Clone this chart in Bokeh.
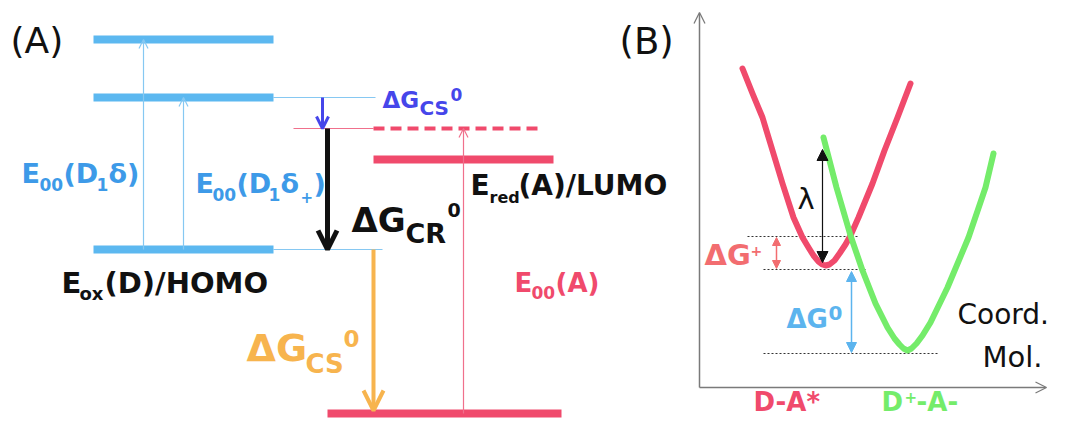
from bokeh.plotting import figure
from bokeh.models import Range1d, Arrow, OpenHead, NormalHead, ColumnDataSource
from bokeh.core.properties import value, field
from bokeh.embed import file_html
from bokeh.resources import INLINE

# ---------------- colours ----------------
BLUE_BAR = "#5cb8f0"
BLUE_THIN = "#86c8f2"
BLUE_TXT = "#3d9ae8"
RED = "#f04a6c"
PINK_THIN = "#f0708c"
ORANGE = "#f7b44e"
DARKBLUE = "#4646ea"
GREEN = "#74ec6a"
SALMON = "#f26d70"
SKY = "#5cb4ee"
BLACK = "#111111"
GREY = "#7a7a7a"

# ---------------- data: panel (A) energy levels ----------------
# diagram units; y grows downward (higher energy = smaller y)
donor_levels = [39, 97, 249]             # E00(D1δ), E00(D1δ+), Eox(D)/HOMO
donor_x = [93, 273]
acc_dashed_level = 128                   # level reached after ΔGCS0 (dashed)
acc_dashed_x = [373, 542]
acc_lumo_level = 159                     # Ered(A)/LUMO
acc_lumo_x = [373, 553]
acc_ground_level = 413                   # acceptor ground state
acc_ground_x = [327, 561]

# thin connector lines
conn_y = [97, 128, 249]
conn_x0 = [273, 293, 273]
conn_x1 = [375, 373, 382]
conn_col = [BLUE_THIN, PINK_THIN, BLUE_THIN]

# excitation arrows E00(D1δ), E00(D1δ+), E00(A)
exc_x = [143, 183, 463]
exc_from = [249, 249, 413]
exc_to = [39, 97, 128]
exc_col = [BLUE_THIN, BLUE_THIN, PINK_THIN]

# energy-change arrows: ΔGCS0 (blue), ΔGCR0 (black), ΔGCS0 (orange)
dg_x = [322, 327, 373]
dg_from = [97, 128, 249]
dg_to = [128, 249, 410]
dg_col = [DARKBLUE, BLACK, ORANGE]
dg_width = [3, 5, 4]
dg_head = [12, 19, 20]

# ---------------- data: panel (B) Marcus parabolas ----------------
axis_origin = [699, 387]
axis_top = 12
axis_right = 1046

red_x = [742, 752, 762, 772, 782, 793, 802, 808, 813, 818, 822, 825, 829, 834, 839, 845, 850, 858, 872, 884, 897, 910]
red_y = [68, 93, 117, 150, 183, 217, 237, 247, 255, 261, 264, 265, 264, 260, 253, 244, 235, 217, 183, 150, 117, 83]
green_x = [823, 836, 850, 862, 875, 887, 894, 899, 903, 907, 911, 916, 922, 930, 947, 968, 985, 993]
green_y = [137, 187, 235, 270, 303, 327, 338, 344, 348, 350, 348, 343, 335, 322, 287, 237, 187, 153]

dot_y = [236, 269, 353]
dot_x0 = [747, 763, 763]
dot_x1 = [857, 867, 937]

lam_x, lam_y = 822, [149, 262]
dgp_x, dgp_y = 776, [237, 268]
dg0_x, dg0_y = 851, [271, 352]

# ---------------- labels: (text, x, baseline, size, style, colour) ----------------
labels = [
    ("(A)", 10, 53, 36, "normal", BLACK),
    ("(B)", 619, 55, 37, "normal", BLACK),
    # E00(D1δ)
    ("E", 21, 183, 27, "bold", BLUE_TXT), ("00", 39, 190, 17, "bold", BLUE_TXT),
    ("(D", 63, 183, 27, "bold", BLUE_TXT), ("1", 96, 190, 17, "bold", BLUE_TXT),
    ("δ)", 108, 183, 27, "bold", BLUE_TXT),
    # E00(D1δ+)
    ("E", 195, 193, 27, "bold", BLUE_TXT), ("00", 212, 200, 17, "bold", BLUE_TXT),
    ("(D", 236, 193, 27, "bold", BLUE_TXT), ("1", 268, 200, 17, "bold", BLUE_TXT),
    ("δ", 280, 193, 27, "bold", BLUE_TXT), ("+", 300, 202, 15, "bold", BLUE_TXT),
    (")", 313, 193, 27, "bold", BLUE_TXT),
    # Eox(D)/HOMO
    ("E", 61, 293, 29, "bold", BLACK), ("ox", 79, 300, 18, "bold", BLACK),
    ("(D)/HOMO", 104, 293, 29, "bold", BLACK),
    # ΔGCS0 orange
    ("ΔG", 246, 362, 38, "bold", ORANGE), ("CS", 305, 373, 26, "bold", ORANGE),
    ("0", 343, 347, 23, "bold", ORANGE),
    # ΔGCR0 black
    ("ΔG", 351, 232, 34, "bold", BLACK), ("CR", 405, 243, 27, "bold", BLACK),
    ("0", 447, 217, 19, "bold", BLACK),
    # ΔGCS0 small blue
    ("ΔG", 382, 108, 23, "bold", DARKBLUE), ("CS", 419, 115, 20, "bold", DARKBLUE),
    ("0", 450, 100, 17, "bold", DARKBLUE),
    # Ered(A)/LUMO
    ("E", 470, 195, 28, "bold", BLACK), ("red", 489, 203, 16, "bold", BLACK),
    ("(A)/LUMO", 518, 195, 28, "bold", BLACK),
    # E00(A)
    ("E", 514, 292, 26, "bold", RED), ("00", 531, 298, 17, "bold", RED),
    ("(A)", 555, 292, 26, "bold", RED),
    # panel B labels
    ("λ", 797, 209, 29, "normal", BLACK),
    ("ΔG", 704, 265, 29, "bold", SALMON), ("+", 750, 256, 14, "bold", SALMON),
    ("ΔG", 786, 328, 26, "bold", SKY), ("0", 828, 320, 20, "bold", SKY),
    ("Coord.", 957, 324, 28, "normal", BLACK),
    ("Mol.", 982, 367, 29, "normal", BLACK),
    ("D-A*", 753, 411, 26, "bold", RED),
    ("D", 881, 411, 26, "bold", GREEN), ("+", 904, 402, 15, "bold", GREEN),
    ("-A-", 916, 411, 26, "bold", GREEN),
]
# the renderer places the alphabetic baseline ~0.37 em lower than requested
BASELINE_FIX = 0.37

# ---------------- figure ----------------
W, H = 1049, 418
p = figure(width=W, height=H, x_range=Range1d(0, W), y_range=Range1d(H, 0),
           x_axis_type=None, y_axis_type=None, output_backend="svg",
           toolbar_location=None, min_border=0)
p.outline_line_color = None
p.grid.visible = False

# thin connectors
p.segment(x0=conn_x0, y0=conn_y, x1=conn_x1, y1=conn_y, line_color=conn_col, line_width=1.2)

# excitation arrows (thin, open heads)
for x, y0, y1, c in zip(exc_x, exc_from, exc_to, exc_col):
    p.add_layout(Arrow(x_start=x, y_start=y0, x_end=x, y_end=y1, line_color=c, line_width=1.2,
                       end=OpenHead(size=9, line_color=c, line_width=1.2)))

# donor levels
p.segment(x0=[donor_x[0]] * 3, y0=donor_levels, x1=[donor_x[1]] * 3, y1=donor_levels,
          line_color=BLUE_BAR, line_width=8, line_cap="butt")
# acceptor levels
p.segment(x0=[acc_dashed_x[0]], y0=[acc_dashed_level], x1=[acc_dashed_x[1]], y1=[acc_dashed_level],
          line_color=RED, line_width=4, line_dash="11 6", line_cap="butt")
p.segment(x0=[acc_lumo_x[0], acc_ground_x[0]], y0=[acc_lumo_level, acc_ground_level],
          x1=[acc_lumo_x[1], acc_ground_x[1]], y1=[acc_lumo_level, acc_ground_level],
          line_color=RED, line_width=8, line_cap="butt")

# ΔG arrows
for x, y0, y1, c, w, hs in zip(dg_x, dg_from, dg_to, dg_col, dg_width, dg_head):
    p.add_layout(Arrow(x_start=x, y_start=y0, x_end=x, y_end=y1, line_color=c, line_width=w,
                       end=OpenHead(size=hs, line_color=c, line_width=w)))

# panel B axes
p.add_layout(Arrow(x_start=axis_origin[0], y_start=axis_origin[1], x_end=axis_origin[0], y_end=axis_top,
                   line_color=GREY, line_width=1.5, end=OpenHead(size=11, line_color=GREY, line_width=1.3)))
p.add_layout(Arrow(x_start=axis_origin[0], y_start=axis_origin[1], x_end=axis_right, y_end=axis_origin[1],
                   line_color=GREY, line_width=1.5, end=OpenHead(size=11, line_color=GREY, line_width=1.3)))

# dotted reference lines
p.segment(x0=dot_x0, y0=dot_y, x1=dot_x1, y1=dot_y, line_color="#333333", line_width=1, line_dash="2 2")

# parabolas
p.line(red_x, red_y, line_color=RED, line_width=6, line_join="round", line_cap="round")
p.line(green_x, green_y, line_color=GREEN, line_width=6, line_join="round", line_cap="round")

# double arrows
for x, ys, c, lw, hs in [(lam_x, lam_y, BLACK, 1.2, 11), (dgp_x, dgp_y, SALMON, 1.5, 8),
                         (dg0_x, dg0_y, SKY, 1.5, 10)]:
    p.add_layout(Arrow(x_start=x, y_start=ys[0], x_end=x, y_end=ys[1], line_color=c, line_width=lw,
                       start=NormalHead(size=hs, fill_color=c, line_color=c, line_width=1),
                       end=NormalHead(size=hs, fill_color=c, line_color=c, line_width=1)))

# text labels
src = ColumnDataSource(dict(
    x=[l[1] for l in labels], y=[l[2] - BASELINE_FIX * l[3] for l in labels], text=[l[0] for l in labels],
    size=[f"{l[3]}px" for l in labels], style=[l[4] for l in labels], color=[l[5] for l in labels]))
p.text(x="x", y="y", text="text", source=src, text_font=value("DejaVu Sans"),
       text_font_size=field("size"), text_font_style=field("style"), text_color=field("color"),
       text_align="left", text_baseline="alphabetic")

open("out.html", "w").write(file_html(p, INLINE))
